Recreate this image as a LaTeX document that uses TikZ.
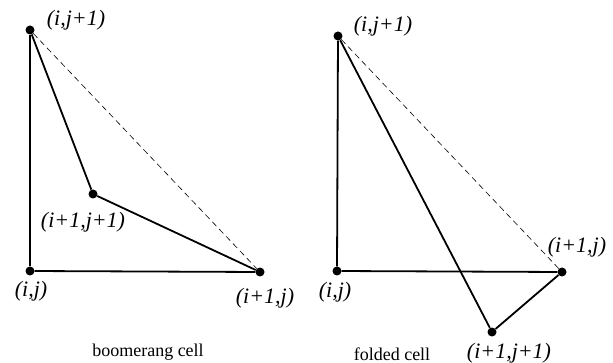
\documentclass[tikz,border=0pt]{standalone}
\usepackage{fontspec}
\setmainfont{Liberation Serif}
\usetikzlibrary{positioning}
\tikzset{
  cpt/.style={circle, fill=black, inner sep=0pt, minimum size=9pt},
  cedge/.style={black, line width=1.8pt},
  cdiag/.style={black, line width=0.6pt, dash pattern=on 6pt off 4pt},
  clbl/.style={font=\fontsize{22}{24}\selectfont\itshape, inner sep=0pt},
  ccap/.style={font=\fontsize{18}{20}\selectfont, inner sep=0pt},
}

\begin{document}
\begin{tikzpicture}[x=1pt,y=-1pt]
  \useasboundingbox (0,0) rectangle (613,363);

  % boomerang cell
  \node[cpt] (bt) at (30,30)   {};
  \node[cpt] (bo) at (30,271)  {};
  \node[cpt] (br) at (260,272) {};
  \node[cpt] (bm) at (93,194)  {};

  \draw[cdiag] (bt) -- (br);
  \draw[cedge] (bt) -- (bo);
  \draw[cedge] (bo) -- (br);
  \draw[cedge] (bt) -- (bm);
  \draw[cedge] (bm) -- (br);

  \node[clbl] (btl) at (76,20)  {(i,j+1)};
  \node[clbl] (bml) at (83,222) {(i+1,j+1)};
  \node[clbl] (bol) at (31,291) {(i,j)};
  \node[clbl] (brl) at (265,298) {(i+1,j)};
  \node[ccap] (bcap) at (148,352) {boomerang cell};

  % folded cell
  \node[cpt] (ft) at (338,36)  {};
  \node[cpt] (fo) at (337,271) {};
  \node[cpt] (fr) at (562,272) {};
  \node[cpt] (fm) at (492,332) {};

  \draw[cdiag] (ft) -- (fr);
  \draw[cedge] (ft) -- (fo);
  \draw[cedge] (fo) -- (fr);
  \draw[cedge] (ft) -- (fm);
  \draw[cedge] (fm) -- (fr);

  \node[clbl] (ftl) at (383,26)  {(i,j+1)};
  \node[clbl] (frl) at (577,247) {(i+1,j)};
  \node[clbl] (fol) at (335,292) {(i,j)};
  \node[clbl] (fml) at (509,353) {(i+1,j+1)};
  \node[ccap] (fcap) at (392,354) {folded cell};

\end{tikzpicture}
\end{document}
